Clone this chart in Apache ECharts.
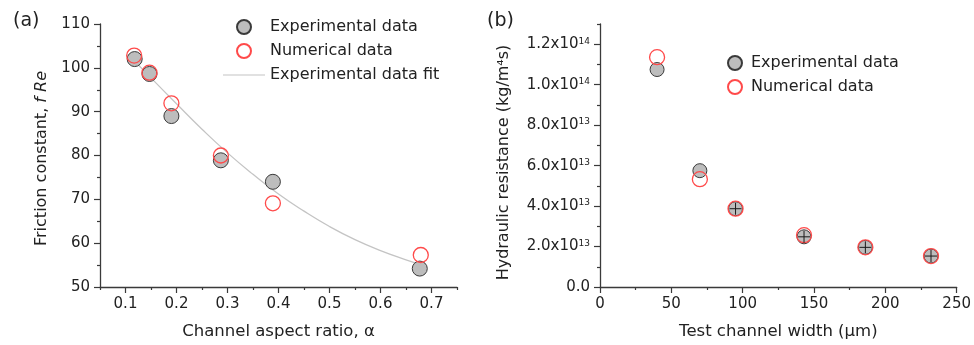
<!DOCTYPE html>
<html>
<head>
<meta charset="utf-8">
<script src="https://cdn.jsdelivr.net/npm/echarts@6/dist/echarts.min.js"></script>
<style>
  html, body { margin: 0; padding: 0; background: #fff; }
  #chart { width: 974px; height: 345px; }
</style>
</head>
<body>
<div id="chart"></div>
<script>
// (a) friction constant vs aspect ratio
var expA_x = [0.118, 0.147, 0.19, 0.287, 0.389, 0.677];
var expA_y = [102.0, 98.6, 89.0, 78.9, 74.0, 54.2];
var numA_x = [0.117, 0.147, 0.19, 0.287, 0.389, 0.679];
var numA_y = [102.8, 98.9, 91.9, 80.0, 69.1, 57.3];
var fitA_x = [0.118, 0.15, 0.2, 0.25, 0.3, 0.35, 0.4, 0.45, 0.5, 0.55, 0.6, 0.65, 0.677];
var fitA_y = [101.5, 97.7, 91.8, 86.0, 80.6, 75.7, 71.2, 67.3, 63.8, 60.8, 58.3, 56.2, 55.2];
var ticksA_x = [0.1, 0.2, 0.3, 0.4, 0.5, 0.6, 0.7];
var minorA_x = [0.05, 0.15, 0.25, 0.35, 0.45, 0.55, 0.65, 0.75];

// (b) hydraulic resistance vs channel width
var widthB = [40, 70, 95, 143, 186, 232];
var expB = [1.075e14, 5.75e13, 3.87e13, 2.48e13, 1.96e13, 1.53e13];
var numB = [1.136e14, 5.33e13, 3.87e13, 2.56e13, 1.96e13, 1.53e13];
var ticksB_y = [0, 2e13, 4e13, 6e13, 8e13, 1e14, 1.2e14];
var minorB_y = [1e13, 3e13, 5e13, 7e13, 9e13, 1.1e14, 1.3e14];
var barIdx = [2, 3, 4, 5]; // points drawn with error-bar cross

function pairs(xs, ys) {
  return xs.map(function (x, i) { return [x, ys[i]]; });
}

function sci(v) {
  if (v === 0) return "{m|0.0}";
  var e = Math.floor(Math.log10(v) + 1e-9);
  var m = (v / Math.pow(10, e)).toFixed(1);
  return "{m|" + m + "x10}{e|" + e + "}";
}

var font = "DejaVu Sans";
var ink = "#222";
var axisCol = "#3a3a3a";
var gray = "#bdbdbd";
var red = "#ff4a4a";
var fitCol = "#c4c4c4";

var axisLine = { show: true, lineStyle: { color: axisCol, width: 1.3 } };
var tick = { show: true, length: 6, lineStyle: { color: axisCol, width: 1.2 } };
var minorTick = { show: true, length: 3, lineStyle: { color: axisCol, width: 1.2 } };
var label = { color: ink, fontFamily: font, fontSize: 15, margin: 10 };
var nameStyle = { color: ink, fontFamily: font, fontSize: 16 };

var dom = document.getElementById("chart");
var myChart = echarts.init(dom, null, { renderer: "canvas" });

var option = {
  animation: false,
  backgroundColor: "#fff",
  title: [
    { text: "(a)", left: 8, top: 7, textStyle: { fontFamily: font, fontSize: 19, fontWeight: "normal", color: ink } },
    { text: "(b)", left: 482, top: 7, textStyle: { fontFamily: font, fontSize: 19, fontWeight: "normal", color: ink } }
  ],
  legend: [
    {
      orient: "vertical", left: 218, top: 14, itemGap: 8, itemWidth: 42, itemHeight: 14,
      symbolKeepAspect: true,
      textStyle: { fontFamily: font, fontSize: 16, color: ink },
      data: [
        { name: "Experimental data", icon: "circle" },
        { name: "Numerical data", icon: "circle" },
        { name: "Experimental data fit", icon: "path://M0,0H42V1.2H0Z", itemStyle: { color: fitCol } }
      ]
    },
    {
      orient: "vertical", left: 722, top: 50, itemGap: 8, itemWidth: 22, itemHeight: 14,
      textStyle: { fontFamily: font, fontSize: 16, color: ink },
      data: [
        { name: "Experimental data ", icon: "circle" },
        { name: "Numerical data ", icon: "circle" }
      ]
    }
  ],
  grid: [
    { left: 100, top: 24, width: 357, height: 265 },
    { left: 600, top: 24, width: 358, height: 265 }
  ],
  xAxis: [
    {
      gridIndex: 0, type: "value", min: 0.05, max: 0.75,
      name: "Channel aspect ratio, \u03b1", nameLocation: "middle", nameGap: 36,
      nameTextStyle: Object.assign({}, nameStyle, { fontSize: 16.5 }),
      axisLine: axisLine, splitLine: { show: false },
      axisTick: Object.assign({ customValues: ticksA_x }, tick),
      axisLabel: Object.assign({ customValues: ticksA_x, formatter: function (v) { return v.toFixed(1); } }, label)
    },
    {
      gridIndex: 0, type: "value", min: 0.05, max: 0.75, position: "bottom",
      axisLine: { show: false }, splitLine: { show: false }, axisLabel: { show: false },
      axisTick: Object.assign({ customValues: minorA_x }, minorTick)
    },
    {
      gridIndex: 1, type: "value", min: 0, max: 250, interval: 50,
      name: "Test channel width (\u00b5m)", nameLocation: "middle", nameGap: 36,
      nameTextStyle: Object.assign({}, nameStyle, { fontSize: 16.5 }),
      axisLine: axisLine, splitLine: { show: false },
      axisTick: tick, minorTick: Object.assign({ splitNumber: 2 }, minorTick),
      axisLabel: label
    }
  ],
  yAxis: [
    {
      gridIndex: 0, type: "value", min: 50, max: 110, interval: 10,
      name: "Friction constant, {i|f Re}", nameLocation: "middle", nameGap: 50,
      nameTextStyle: Object.assign({ padding: [0, 6, 0, 0], rich: { i: { fontFamily: font, fontSize: 16, fontStyle: "italic", color: ink } } }, nameStyle),
      axisLine: axisLine, splitLine: { show: false },
      axisTick: tick, minorTick: Object.assign({ splitNumber: 2 }, minorTick),
      axisLabel: label
    },
    {
      gridIndex: 1, type: "value", min: 0, max: 1.3e14,
      name: "Hydraulic resistance (kg/m\u2074s)", nameLocation: "middle", nameGap: 88,
      nameTextStyle: Object.assign({ padding: [0, 14, 0, 0] }, nameStyle),
      axisLine: axisLine, splitLine: { show: false },
      axisTick: Object.assign({ customValues: ticksB_y }, tick),
      axisLabel: Object.assign({
        customValues: ticksB_y,
        formatter: sci,
        rich: {
          m: { fontFamily: font, fontSize: 15, color: ink },
          e: { fontFamily: font, fontSize: 9, color: ink, verticalAlign: "top" }
        }
      }, label)
    },
    {
      gridIndex: 1, type: "value", min: 0, max: 1.3e14, position: "left",
      axisLine: { show: false }, splitLine: { show: false }, axisLabel: { show: false },
      axisTick: Object.assign({ customValues: minorB_y }, minorTick)
    }
  ],
  series: [
    {
      name: "Experimental data fit", type: "line", xAxisIndex: 0, yAxisIndex: 0,
      data: pairs(fitA_x, fitA_y), smooth: true, showSymbol: false, symbol: "none",
      lineStyle: { color: fitCol, width: 1.3 }, itemStyle: { color: fitCol }, z: 1
    },
    {
      name: "Experimental data", type: "scatter", xAxisIndex: 0, yAxisIndex: 0,
      data: pairs(expA_x, expA_y), symbolSize: 15,
      itemStyle: { color: gray, borderColor: axisCol, borderWidth: 1, opacity: 1 }, z: 2
    },
    {
      name: "Numerical data", type: "scatter", xAxisIndex: 0, yAxisIndex: 0,
      data: pairs(numA_x, numA_y), symbolSize: 15,
      itemStyle: { color: "rgba(255,255,255,0)", borderColor: red, borderWidth: 1.3, opacity: 1 }, z: 3
    },
    {
      name: "Experimental data ", type: "scatter", xAxisIndex: 2, yAxisIndex: 1,
      data: pairs(widthB, expB), symbolSize: 14,
      itemStyle: { color: gray, borderColor: axisCol, borderWidth: 1, opacity: 1 }, z: 2
    },
    {
      name: "Numerical data ", type: "scatter", xAxisIndex: 2, yAxisIndex: 1,
      data: pairs(widthB, numB), symbolSize: 15,
      itemStyle: { color: "rgba(255,255,255,0)", borderColor: red, borderWidth: 1.3, opacity: 1 }, z: 3
    },
    {
      name: "errbar", type: "scatter", xAxisIndex: 2, yAxisIndex: 1,
      data: barIdx.map(function (i) { return [widthB[i], expB[i]]; }),
      symbol: "path://M0,6H12M6,0V12", symbolSize: 12, silent: true,
      itemStyle: { color: "rgba(0,0,0,0)", borderColor: "#1a1a1a", borderWidth: 1, opacity: 1 }, z: 4
    }
  ]
};

if (option && typeof option === "object") {
  myChart.setOption(option);
}
window.addEventListener("resize", myChart.resize);
</script>
</body>
</html>
